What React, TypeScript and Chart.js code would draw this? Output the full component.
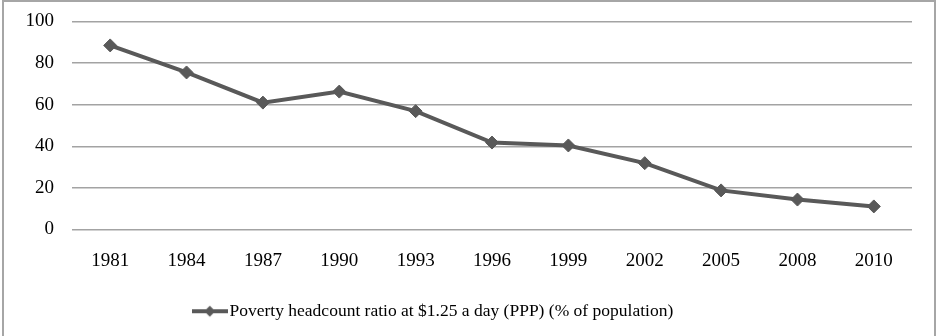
import React, { useEffect, useRef } from 'react';
import { Chart, registerables } from 'chart.js';

Chart.register(...registerables);

const years = ['1981', '1984', '1987', '1990', '1993', '1996', '1999', '2002', '2005', '2008', '2010'];
const povertyRatio = [88.5, 75.5, 61.0, 66.3, 56.9, 41.8, 40.4, 31.9, 18.8, 14.4, 11.1];
const yTickValues = [0, 20, 40, 60, 80, 100];
const seriesLabel = 'Poverty headcount ratio at $1.25 a day (PPP) (% of population)';

const LINE_COLOR = '#595959';
const GRID_COLOR = '#a3a3a3';
const FONT_FAMILY = '"Liberation Serif", "Times New Roman", serif';
const AXIS_FONT_SIZE = 19;
const LEGEND_FONT_SIZE = 17.5;

function makeLegendSymbol(): HTMLCanvasElement {
  const c = document.createElement('canvas');
  c.width = 36;
  c.height = 14;
  const ctx = c.getContext('2d')!;
  ctx.strokeStyle = LINE_COLOR;
  ctx.lineWidth = 4;
  ctx.beginPath();
  ctx.moveTo(0, 7);
  ctx.lineTo(36, 7);
  ctx.stroke();
  ctx.fillStyle = LINE_COLOR;
  ctx.beginPath();
  ctx.moveTo(18, 1.5);
  ctx.lineTo(23.5, 7);
  ctx.lineTo(18, 12.5);
  ctx.lineTo(12.5, 7);
  ctx.closePath();
  ctx.fill();
  return c;
}

const legendShift = {
  id: 'legendShift',
  afterLayout(chart: any) {
    const l = chart.legend;
    if (l) {
      l.left -= 20;
      l.right -= 20;
    }
  },
};

export default function App() {
  const canvasRef = useRef<HTMLCanvasElement | null>(null);

  useEffect(() => {
    if (!canvasRef.current) return;
    const symbol = makeLegendSymbol();
    const chart = new Chart(canvasRef.current, {
      type: 'line',
      data: {
        labels: years,
        datasets: [
          {
            label: seriesLabel,
            data: povertyRatio,
            borderColor: LINE_COLOR,
            backgroundColor: LINE_COLOR,
            borderWidth: 4,
            pointStyle: 'rectRot',
            pointRadius: 6.5,
            pointBorderWidth: 1,
            pointBackgroundColor: LINE_COLOR,
            pointBorderColor: LINE_COLOR,
            tension: 0,
            fill: false,
          },
        ],
      },
      options: {
        responsive: false,
        animation: false,
        devicePixelRatio: 1,
        layout: { padding: { top: 21.5, right: 28, bottom: 6, left: 0 } },
        plugins: {
          tooltip: { enabled: false },
          title: { display: false },
          legend: {
            display: true,
            position: 'bottom',
            labels: {
              usePointStyle: true,
              pointStyleWidth: 22,
              padding: 10,
              color: '#000000',
              font: { family: FONT_FAMILY, size: LEGEND_FONT_SIZE },
              generateLabels: (ch: any) =>
                Chart.defaults.plugins.legend.labels.generateLabels(ch).map((item: any) => ({
                  ...item,
                  pointStyle: symbol,
                })),
            },
          },
        },
        scales: {
          x: {
            offset: true,
            grid: { display: false, drawTicks: false },
            border: { display: false },
            ticks: {
              color: '#000000',
              padding: 20,
              maxRotation: 0,
              autoSkip: false,
              font: { family: FONT_FAMILY, size: AXIS_FONT_SIZE },
            },
            afterFit: (s: any) => {
              s.height = 63;
            },
          },
          y: {
            min: 0,
            max: 100,
            afterBuildTicks: (s: any) => {
              s.ticks = yTickValues.map((v) => ({ value: v }));
            },
            grid: { color: GRID_COLOR, lineWidth: 1.5, drawTicks: false },
            border: { display: false },
            ticks: {
              color: '#000000',
              padding: 18,
              font: { family: FONT_FAMILY, size: AXIS_FONT_SIZE },
            },
            afterFit: (s: any) => {
              s.width = 72;
              s.paddingTop = 0;
              s.paddingBottom = 0;
            },
          },
        },
      },
      plugins: [legendShift],
    });
    return () => chart.destroy();
  }, []);

  return (
    <div style={{ position: 'fixed', left: 0, top: 0, width: 940, height: 336, background: '#ffffff', overflow: 'hidden' }}>
      <div
        style={{
          position: 'absolute',
          left: 2,
          top: 0,
          width: 930,
          height: 345,
          border: '2px solid #a6a6a6',
          boxSizing: 'content-box',
        }}
      />
      <canvas ref={canvasRef} width={940} height={336} style={{ position: 'absolute', left: 0, top: 0, width: 940, height: 336 }} />
    </div>
  );
}
